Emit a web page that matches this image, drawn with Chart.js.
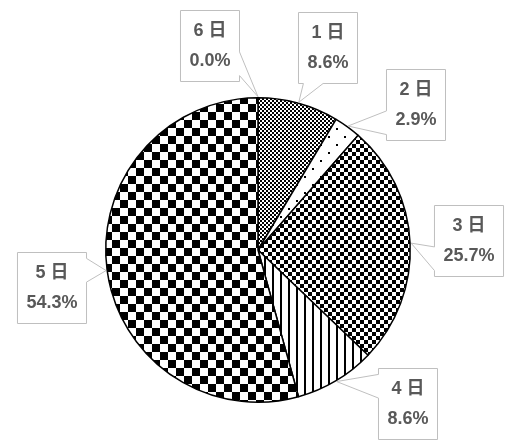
<!DOCTYPE html>
<html>
<head>
<meta charset="utf-8">
<script src="https://cdn.jsdelivr.net/npm/chart.js@4/dist/chart.umd.min.js"></script>
<style>
  body { margin: 0; background: #fff; }
  #wrap { width: 509px; height: 442px; }
</style>
</head>
<body>
<div id="wrap"><canvas id="grafico" width="509" height="442"></canvas></div>
<script>
// Dados do gráfico
const categorias = ['1 日', '2 日', '3 日', '4 日', '5 日', '6 日'];
const contagens = [3, 1, 9, 3, 19, 0];
const percentuais = ['8.6%', '2.9%', '25.7%', '8.6%', '54.3%', '0.0%'];

// Posição dos rótulos (centro da caixa, relativo ao centro da pizza)
const offsetsRotulos = [[70, -202], [158, -145], [211, -9], [150, 154], [-206, 38], [-48, -204]];

function criarPadrao(tam, desenhar) {
    const c = document.createElement('canvas');
    c.width = tam; c.height = tam;
    const g = c.getContext('2d');
    g.fillStyle = '#fff';
    g.fillRect(0, 0, tam, tam);
    g.fillStyle = '#000';
    desenhar(g, tam);
    return document.getElementById('grafico').getContext('2d').createPattern(c, 'repeat');
}

function xadrez(cel) {
    return criarPadrao(cel * 2, (g) => {
        g.fillRect(0, 0, cel, cel);
        g.fillRect(cel, cel, cel, cel);
    });
}

const padroes = [
    xadrez(2),
    criarPadrao(16, (g) => { g.fillRect(0, 0, 2, 2); g.fillRect(8, 8, 2, 2); }),
    xadrez(4),
    criarPadrao(8, (g) => { g.fillRect(0, 0, 2, 8); }),
    xadrez(8),
    '#ffffff'
];

// Caixa com "rabo" no estilo de callout
function caminhoCallout(ctx, x, y, w, h, tx, ty) {
    const cx = x + w / 2, cy = y + h / 2;
    const dx = (tx - cx) / w, dy = (ty - cy) / h;
    const vert = Math.abs(dy) >= Math.abs(dx);
    ctx.beginPath();
    ctx.moveTo(x, y);
    if (vert && dy < 0) {
        const a = tx < cx ? [x + w / 12, x + 5 * w / 12] : [x + 7 * w / 12, x + 11 * w / 12];
        ctx.lineTo(a[0], y); ctx.lineTo(tx, ty); ctx.lineTo(a[1], y);
    }
    ctx.lineTo(x + w, y);
    if (!vert && dx > 0) {
        const a = ty < cy ? [y + h / 12, y + 5 * h / 12] : [y + 7 * h / 12, y + 11 * h / 12];
        ctx.lineTo(x + w, a[0]); ctx.lineTo(tx, ty); ctx.lineTo(x + w, a[1]);
    }
    ctx.lineTo(x + w, y + h);
    if (vert && dy > 0) {
        const a = tx < cx ? [x + 5 * w / 12, x + w / 12] : [x + 11 * w / 12, x + 7 * w / 12];
        ctx.lineTo(a[0], y + h); ctx.lineTo(tx, ty); ctx.lineTo(a[1], y + h);
    }
    ctx.lineTo(x, y + h);
    if (!vert && dx < 0) {
        const a = ty < cy ? [y + 5 * h / 12, y + h / 12] : [y + 11 * h / 12, y + 7 * h / 12];
        ctx.lineTo(x, a[0]); ctx.lineTo(tx, ty); ctx.lineTo(x, a[1]);
    }
    ctx.closePath();
}

const pluginRotulos = {
    id: 'rotulosCallout',
    afterDatasetsDraw(chart) {
        const ctx = chart.ctx;
        const meta = chart.getDatasetMeta(0);
        ctx.save();
        ctx.font = 'bold 18px "Liberation Sans", "Noto Sans CJK JP", sans-serif';
        ctx.textAlign = 'center';
        ctx.textBaseline = 'middle';
        meta.data.forEach((arc, i) => {
            const p = arc.getProps(['x', 'y', 'startAngle', 'endAngle', 'outerRadius'], true);
            const ang = (p.startAngle + p.endAngle) / 2;
            const tx = p.x + Math.cos(ang) * (p.outerRadius + 1);
            const ty = p.y + Math.sin(ang) * (p.outerRadius + 1);
            const l1 = categorias[i], l2 = percentuais[i];
            const w = Math.max(ctx.measureText(l1).width, ctx.measureText(l2).width) + 18;
            const h = 71;
            const bx = p.x + offsetsRotulos[i][0] - w / 2;
            const by = p.y + offsetsRotulos[i][1] - h / 2;
            caminhoCallout(ctx, bx, by, w, h, tx, ty);
            ctx.fillStyle = '#ffffff';
            ctx.fill();
            ctx.strokeStyle = '#bfbfbf';
            ctx.lineWidth = 1;
            ctx.stroke();
            ctx.fillStyle = '#595959';
            ctx.fillText(l1, bx + w / 2, by + h / 2 - 15);
            ctx.fillText(l2, bx + w / 2, by + h / 2 + 15);
        });
        ctx.restore();
    }
};

new Chart(document.getElementById('grafico'), {
    type: 'pie',
    data: {
        labels: categorias,
        datasets: [{
            data: contagens,
            backgroundColor: padroes,
            borderColor: '#000000',
            borderWidth: 1.5
        }]
    },
    options: {
        responsive: false,
        animation: false,
        layout: { padding: { top: 97, bottom: 39, left: 105, right: 98 } },
        plugins: {
            legend: { display: false },
            tooltip: { enabled: false }
        }
    },
    plugins: [pluginRotulos]
});
</script>
</body>
</html>
